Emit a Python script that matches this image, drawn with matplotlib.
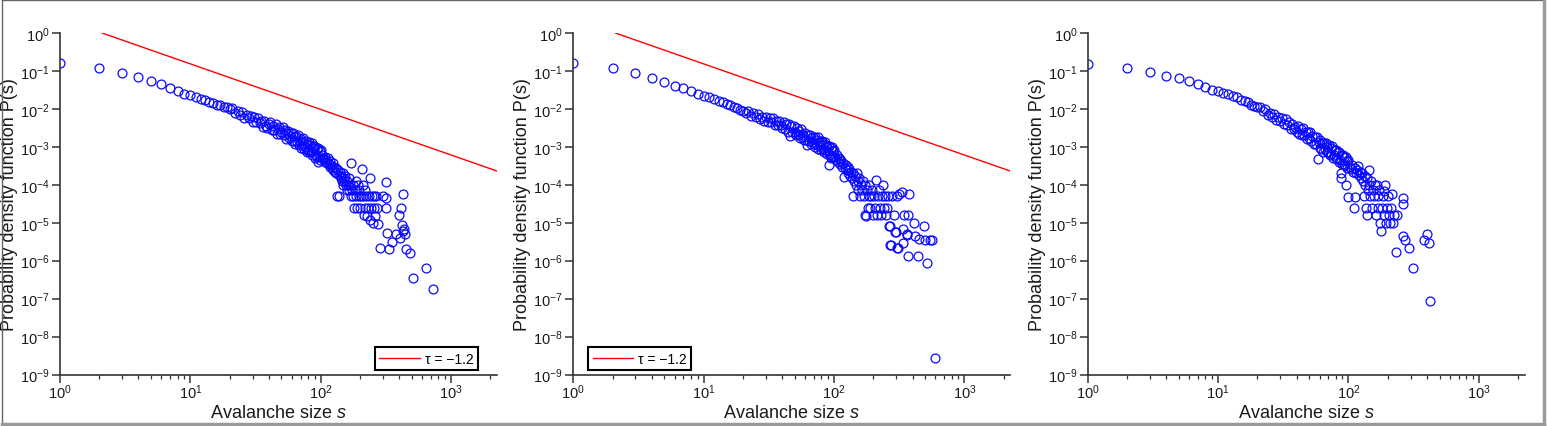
import matplotlib
matplotlib.use('Agg')
import matplotlib.pyplot as plt
from matplotlib.lines import Line2D
from matplotlib.ticker import LogLocator, NullLocator, FixedLocator

plt.rcParams['font.family'] = ['Liberation Sans', 'DejaVu Sans']
plt.rcParams['mathtext.fontset'] = 'custom'
plt.rcParams['mathtext.rm'] = 'Liberation Sans'
plt.rcParams['mathtext.it'] = 'Liberation Sans:italic'

# avalanche sizes s = 1..100 (every size present in all three runs)
SIZES_HEAD = [1, 2, 3, 4, 5, 6, 7, 8, 9, 10, 11, 12, 13, 14, 15, 16, 17, 18, 19, 20,
              21, 22, 23, 24, 25, 26, 27, 28, 29, 30, 31, 32, 33, 34, 35, 36, 37, 38, 39, 40,
              41, 42, 43, 44, 45, 46, 47, 48, 49, 50, 51, 52, 53, 54, 55, 56, 57, 58, 59, 60,
              61, 62, 63, 64, 65, 66, 67, 68, 69, 70, 71, 72, 73, 74, 75, 76, 77, 78, 79, 80,
              81, 82, 83, 84, 85, 86, 87, 88, 89, 90, 91, 92, 93, 94, 95, 96, 97, 98, 99, 100]

# panel 1
P1_HEAD = [0.162, 0.119, 0.090, 0.068, 0.053, 0.045, 0.035, 0.029, 0.025, 0.0227,
           0.0205, 0.0180, 0.0170, 0.0150, 0.0143, 0.0128, 0.0125, 0.0112, 0.0110, 0.0100,
           0.0107, 0.0078, 0.0087, 0.0070, 0.0085, 0.0059, 0.0071, 0.0058, 0.0065, 0.0046,
           0.0062, 0.0044, 0.0058, 0.0042, 0.0047, 0.0034, 0.0049, 0.0036, 0.0032, 0.0041,
           0.0044, 0.0027, 0.0036, 0.0027, 0.0040, 0.0022, 0.0030, 0.0034, 0.0022, 0.0025,
           0.0033, 0.0020, 0.0027, 0.0016, 0.0023, 0.0026, 0.0017, 0.0019, 0.0023, 0.0014,
           0.0023, 0.00145, 0.0018, 0.0012, 0.0019, 0.00136, 0.0020, 0.00114, 0.00145, 0.00094,
           0.0016, 0.0011, 0.0017, 0.00089, 0.00128, 0.00102, 0.00143, 0.00075, 0.0012, 0.00082,
           0.00134, 0.00073, 0.00113, 0.00078, 0.0013, 0.00062, 0.00095, 0.00076, 0.00107, 0.00052,
           0.00101, 0.00062, 0.0009, 0.00055, 0.0004, 0.00095, 0.00059, 0.00077, 0.00046, 0.00081]
S1_TAIL = [102, 104, 105, 107, 108, 110, 112, 113, 115, 117, 118, 120, 122, 124, 125, 127,
           129, 130, 132, 133, 135, 137, 138, 140, 142, 144, 145, 147, 149, 150, 152, 154,
           156, 158, 160, 162, 164, 166, 168, 170, 172, 174, 176, 178, 180, 182, 185, 188,
           190, 193, 195, 198, 200, 203, 207, 210, 212, 215, 218, 220, 224, 228, 230, 234,
           238, 240, 244, 248, 252, 255, 258, 262, 266, 270, 275, 284, 300, 314, 316, 319,
           320, 333, 352, 380, 396, 405, 416, 420, 425, 429, 435, 440, 452, 480, 511, 647, 728]
P1_TAIL = [6.0e-4, 5.2e-4, 4.8e-4, 5.5e-4, 4.0e-4, 4.5e-4, 3.8e-4, 5.0e-4, 3.5e-4, 4.2e-4,
           3.0e-4, 3.3e-4, 2.8e-4, 3.8e-4, 2.5e-4, 3.0e-4, 2.2e-4, 2.8e-4, 2.0e-4, 5.0e-5,
           2.5e-4, 1.8e-4, 5.0e-5, 2.2e-4, 1.5e-4, 1.75e-4, 1.25e-4, 2.0e-4, 1.0e-4, 1.5e-4,
           1.25e-4, 1.75e-4, 1.0e-4, 7.5e-5, 1.25e-4, 1.0e-4, 7.5e-5, 1.5e-4, 1.0e-4, 5.0e-5,
           3.7e-4, 7.5e-5, 1.0e-4, 5.0e-5, 2.5e-5, 7.5e-5, 1.25e-4, 5.0e-5, 2.5e-5, 1.0e-4,
           5.0e-5, 7.5e-5, 2.5e-5, 5.0e-5, 2.6e-4, 1.0e-4, 5.0e-5, 1.6e-5, 7.5e-5, 2.5e-5,
           5.0e-5, 1.5e-5, 2.5e-5, 5.0e-5, 1.2e-5, 1.5e-4, 2.5e-5, 5.0e-5, 1.0e-5, 2.5e-5,
           5.0e-5, 1.5e-5, 5.0e-5, 2.5e-5, 9.0e-6, 2.2e-6, 5.0e-5, 4.5e-5, 2.5e-5, 1.16e-4,
           5.3e-6, 2.0e-6, 3.1e-6, 5.0e-6, 1.6e-5, 4.0e-6, 2.4e-5, 8.7e-6, 6.0e-6, 5.6e-5,
           7.0e-6, 5.0e-6, 2.0e-6, 1.6e-6, 3.5e-7, 6.3e-7, 1.8e-7]

# panel 2
P2_HEAD = [0.162, 0.117, 0.087, 0.066, 0.050, 0.041, 0.035, 0.029, 0.0247, 0.0222,
           0.0200, 0.0180, 0.0166, 0.0150, 0.0135, 0.0125, 0.0110, 0.0105, 0.0095, 0.0090,
           0.0077, 0.0090, 0.0065, 0.0077, 0.0061, 0.0074, 0.0054, 0.0062, 0.0047, 0.0061,
           0.0046, 0.0059, 0.0045, 0.0058, 0.0038, 0.0049, 0.0037, 0.0048, 0.0038, 0.0032,
           0.0046, 0.0029, 0.0039, 0.0025, 0.0041, 0.0019, 0.0035, 0.0025, 0.0035, 0.0024,
           0.0021, 0.0031, 0.0022, 0.0026, 0.0017, 0.0029, 0.0018, 0.0021, 0.0015, 0.0023,
           0.00148, 0.0011, 0.0021, 0.00145, 0.0021, 0.0012, 0.0017, 0.00135, 0.00185, 0.00116,
           0.0018, 0.00102, 0.00153, 0.0011, 0.00178, 0.00087, 0.00132, 0.00112, 0.00144, 0.00085,
           0.00143, 0.00086, 0.00118, 0.00073, 0.00135, 0.00082, 0.00113, 0.00066, 0.00101, 0.00077,
           0.00033, 0.00104, 0.00062, 0.00091, 0.00052, 0.00097, 0.00053, 0.00076, 0.00058, 0.00083]
S2_TAIL = [102, 104, 105, 107, 109, 111, 112, 114, 116, 118, 119, 121, 123, 125, 127, 129,
           131, 133, 135, 137, 139, 141, 143, 145, 147, 150, 152, 154, 156, 159, 161, 164,
           167, 170, 173, 174, 176, 178, 181, 184, 187, 190, 193, 196, 200, 204, 208, 211,
           213, 216, 220, 224, 228, 232, 237, 241, 246, 250, 255, 260, 263, 270, 271, 274,
           280, 286, 296, 298, 304, 305, 309, 314, 331, 337, 340, 345, 363, 366, 370, 374,
           372, 414, 420, 437, 445, 493, 500, 513, 540, 560, 597]
P2_TAIL = [5.5e-4, 4.5e-4, 6.2e-4, 4.0e-4, 5.0e-4, 4.8e-4, 3.5e-4, 4.2e-4, 3.0e-4, 3.8e-4,
           1.6e-4, 2.8e-4, 3.3e-4, 2.5e-4, 3.0e-4, 2.0e-4, 2.6e-4, 1.75e-4, 2.2e-4, 1.5e-4,
           2.0e-4, 5.1e-5, 1.25e-4, 1.75e-4, 1.0e-4, 2.1e-4, 1.25e-4, 7.5e-5, 1.5e-4, 5.0e-5,
           1.0e-4, 7.5e-5, 1.25e-4, 5.0e-5, 1.0e-4, 1.6e-5, 1.5e-5, 7.5e-5, 2.5e-5, 5.0e-5,
           1.0e-4, 2.5e-5, 5.0e-5, 7.5e-5, 1.6e-5, 5.0e-5, 2.5e-5, 1.3e-4, 1.6e-5, 5.0e-5,
           7.5e-5, 2.5e-5, 1.6e-5, 5.0e-5, 1.0e-4, 2.5e-5, 5.0e-5, 1.6e-5, 2.5e-5, 5.0e-5,
           8.3e-6, 8.3e-6, 2.6e-6, 2.6e-6, 5.0e-5, 1.6e-5, 5.6e-6, 5.6e-6, 5.0e-5, 2.1e-6,
           2.1e-6, 5.7e-5, 6.6e-5, 6.8e-6, 2.9e-6, 1.6e-5, 4.8e-6, 5.0e-6, 1.3e-6, 5.7e-5,
           1.6e-5, 9.7e-6, 4.5e-6, 1.3e-6, 3.8e-6, 8.0e-6, 3.6e-6, 8.8e-7, 3.5e-6, 3.4e-6, 2.8e-9]

# panel 3
P3_HEAD = [0.149, 0.117, 0.096, 0.075, 0.064, 0.054, 0.044, 0.037, 0.032, 0.0296,
           0.026, 0.024, 0.022, 0.020, 0.0175, 0.016, 0.015, 0.013, 0.0120, 0.0110,
           0.0110, 0.0086, 0.0099, 0.0070, 0.0077, 0.0063, 0.0075, 0.0052, 0.0063, 0.0049,
           0.0059, 0.0041, 0.0054, 0.0037, 0.0044, 0.0030, 0.0041, 0.0030, 0.0033, 0.0025,
           0.0035, 0.0022, 0.0030, 0.0020, 0.0031, 0.0020, 0.0024, 0.0016, 0.0024, 0.0017,
           0.0024, 0.0014, 0.0019, 0.0012, 0.0018, 0.00122, 0.00185, 0.00048, 0.00138, 0.00095,
           0.0015, 0.00089, 0.00123, 0.00074, 0.00125, 0.00087, 0.00127, 0.00072, 0.00098, 0.00074,
           0.0011, 0.00062, 0.00096, 0.00066, 0.00106, 0.00051, 0.00082, 0.00062, 0.00084, 0.00052,
           0.00085, 0.00049, 0.00071, 0.0004, 0.00073, 0.00046, 0.00015, 0.0002, 0.00058, 0.00036,
           0.00061, 0.00034, 0.00053, 0.00034, 0.00055, 0.0001, 0.00043, 0.00027, 0.00044, 4.7e-5]
S3_TAIL = [102, 104, 106, 108, 110, 112, 113, 115, 117, 119, 121, 123, 125, 127, 129, 131,
           133, 135, 137, 138, 140, 141, 143, 145, 147, 150, 152, 155, 158, 160, 163, 166,
           168, 170, 173, 176, 178, 180, 183, 186, 189, 192, 195, 198, 200, 204, 208, 212,
           216, 220, 225, 232, 235, 262, 260, 263, 273, 290, 313, 378, 401, 413, 425]
P3_TAIL = [3.0e-4, 2.6e-4, 3.3e-4, 2.2e-4, 2.4e-5, 2.8e-4, 4.7e-5, 2.0e-4, 2.5e-4, 3.2e-4,
           1.8e-4, 2.2e-4, 1.5e-4, 2.0e-4, 1.25e-4, 5.0e-5, 1.75e-4, 1.0e-4, 2.5e-5, 1.5e-4,
           1.6e-5, 7.5e-5, 2.5e-4, 1.0e-4, 5.0e-5, 1.25e-4, 2.5e-5, 7.5e-5, 5.0e-5, 1.0e-4,
           1.6e-5, 1.0e-4, 2.5e-5, 5.0e-5, 7.5e-5, 1.0e-5, 6.2e-6, 2.5e-5, 5.0e-5, 1.6e-5,
           7.0e-5, 1.0e-4, 1.0e-5, 2.5e-5, 5.0e-5, 1.6e-5, 1.0e-5, 2.5e-5, 5.6e-5, 1.0e-5,
           1.6e-5, 1.7e-6, 1.6e-5, 4.5e-5, 3.1e-5, 4.6e-6, 3.4e-6, 2.1e-6, 6.5e-7, 3.5e-6,
           5.0e-6, 2.9e-6, 8.5e-8]

# reference power law, tau = -1.2
LINE_S = [2.1, 2250]
LINE_P = [1.0, 2.3e-4]
LINE_LABEL = '\u03c4 = \u22121.2'

PANELS = [
    (SIZES_HEAD + S1_TAIL, P1_HEAD + P1_TAIL, 'lower right', (0.957, 0.012)),
    (SIZES_HEAD + S2_TAIL, P2_HEAD + P2_TAIL, 'lower left', (0.033, 0.012)),
    (SIZES_HEAD + S3_TAIL, P3_HEAD + P3_TAIL, None, None),
]

W, H = 1547, 427
fig = plt.figure(figsize=(W / 100, H / 100), dpi=100)
lefts = [60, 573.3, 1087.7]
ax_w = 437 / W
ax_b = 1 - 375.5 / H
ax_h = (375.5 - 34) / H

AX_COL = '#333333'
TXT_COL = '#1a1a1a'
for left, (sx, py, loc, anchor) in zip(lefts, PANELS):
    ax = fig.add_axes([left / W, ax_b, ax_w, ax_h])
    ax.set_xscale('log')
    ax.set_yscale('log')
    if loc is not None:
        ax.plot(LINE_S, LINE_P, color='#ff0000', lw=1.0, label=LINE_LABEL)
    ax.plot(sx, py, 'o', mfc='none', mec='#0a0aff', ms=6.4, mew=0.9, ls='none')
    ax.set_xlim(1, 2250)
    ax.set_ylim(1e-9, 1)
    ax.yaxis.set_major_locator(FixedLocator([1e-9, 1e-8, 1e-7, 1e-6, 1e-5, 1e-4, 1e-3, 1e-2, 1e-1, 1e0]))
    ax.yaxis.set_minor_locator(NullLocator())
    ax.xaxis.set_major_locator(FixedLocator([1, 10, 100, 1000]))
    ax.xaxis.set_minor_locator(LogLocator(base=10, subs=range(2, 10), numticks=20))
    for side in ['top', 'right']:
        ax.spines[side].set_visible(False)
    for side in ['left', 'bottom']:
        ax.spines[side].set_color(AX_COL)
        ax.spines[side].set_linewidth(1.2)
    ax.tick_params(which='major', direction='out', length=5.5, width=1.1, color=AX_COL,
                   labelsize=10.5, labelcolor=TXT_COL)
    ax.tick_params(which='minor', direction='out', length=3.0, width=0.9, color=AX_COL)
    ax.tick_params(axis='x', which='major', pad=0.5)
    ax.tick_params(axis='y', which='major', pad=2)
    ax.set_xlabel('Avalanche size $s$', fontsize=13, color=TXT_COL)
    ax.set_ylabel('Probability density function P(s)', fontsize=13, color=TXT_COL)
    ax.xaxis.set_label_coords(0.5, -0.085)
    ax.yaxis.set_label_coords(-0.096, 0.5)
    if loc is not None:
        leg = ax.legend(loc=loc, bbox_to_anchor=anchor, borderaxespad=0, fontsize=10,
                        fancybox=False, framealpha=1, edgecolor='black',
                        handlelength=2.9, handletextpad=0.35, borderpad=0.35)
        leg.get_frame().set_linewidth(1.5)

# figure frame with a shadow on the right and bottom
fig.add_artist(Line2D([0.001, 0.001], [0.004, 0.998], transform=fig.transFigure, color='#666666', lw=1))
fig.add_artist(Line2D([0.001, 0.998], [0.998, 0.998], transform=fig.transFigure, color='#666666', lw=1))
fig.add_artist(Line2D([0.998, 0.998], [0.004, 0.998], transform=fig.transFigure, color='#999999', lw=2.5))
fig.add_artist(Line2D([0.001, 0.998], [0.004, 0.004], transform=fig.transFigure, color='#999999', lw=2.5))

fig.savefig('out.png', dpi=100, facecolor='white')
